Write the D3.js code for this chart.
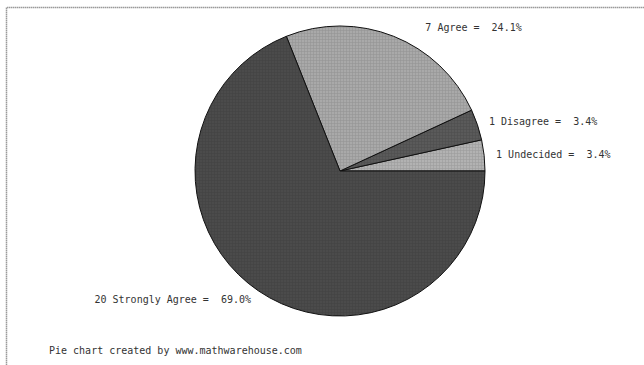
<!DOCTYPE html>
<html>
<head>
<meta charset="utf-8">
<script src="https://cdn.jsdelivr.net/npm/d3@7/dist/d3.min.js"></script>
<style>
  html, body { margin: 0; padding: 0; background: #fff; }
  svg { display: block; }
  text { font-family: "DejaVu Sans Mono", "Liberation Mono", monospace; font-size: 10px; fill: #333; }
</style>
</head>
<body>
<svg id="chart" width="644" height="365"></svg>
<script>
// Survey responses, drawn counter-clockwise from 3 o'clock
const categories = ["Undecided", "Disagree", "Agree", "Strongly Agree"];
const counts = [1, 1, 7, 20];
const percents = ["3.4%", "3.4%", "24.1%", "69.0%"];
const fills = ["#b2b2b2", "#5a5a5a", "#a9a9a9", "#4b4b4b"];
const footer = "Pie chart created by www.mathwarehouse.com";

const W = 644, H = 365;
const cx = 340, cy = 171, R = 145;
const svg = d3.select("#chart");

// frame along the top and left
svg.append("path")
  .attr("d", `M6.5,${H} L6.5,7.5 L${W},7.5`)
  .attr("fill", "none")
  .attr("stroke", "#9a9a9a")
  .attr("stroke-width", 1.5)
  .attr("stroke-dasharray", "1.5,0.5");

// dither texture used on the slices
const defs = svg.append("defs");
fills.forEach((c, i) => {
  const p = defs.append("pattern")
    .attr("id", "tex" + i)
    .attr("width", 3).attr("height", 3)
    .attr("patternUnits", "userSpaceOnUse");
  p.append("rect").attr("width", 3).attr("height", 3).attr("fill", c);
  const d = d3.color(c).darker(0.35);
  p.append("rect").attr("x", 0).attr("y", 0).attr("width", 3).attr("height", 1).attr("fill", d).attr("opacity", 0.6);
  p.append("rect").attr("x", 0).attr("y", 0).attr("width", 1).attr("height", 3).attr("fill", d).attr("opacity", 0.6);
});

const pie = d3.pie().sort(null).value(d => d)
  .startAngle(Math.PI / 2).endAngle(Math.PI / 2 - 2 * Math.PI);
const arcs = pie(counts);
const arc = d3.arc().innerRadius(0).outerRadius(R);

const g = svg.append("g").attr("transform", `translate(${cx},${cy})`);
g.selectAll("path.slice")
  .data(arcs)
  .join("path")
  .attr("class", "slice")
  .attr("d", arc)
  .attr("fill", (d, i) => `url(#tex${i})`)
  .attr("stroke", "#111")
  .attr("stroke-width", 1);

// labels placed just outside each slice's mid-angle
const labelR = R + 10;
g.selectAll("text.lbl")
  .data(arcs)
  .join("text")
  .attr("class", "lbl")
  .each(function (d, i) {
    const mid = (d.startAngle + d.endAngle) / 2;
    const x = labelR * Math.sin(mid);
    const y = -labelR * Math.cos(mid);
    const right = x >= 0;
    const nudge = right && Math.abs(Math.cos(mid)) > 0.9 ? 26 : 0;
    d3.select(this)
      .attr("x", x + nudge + (right ? 2 : -2))
      .attr("y", y)
      .attr("dy", "0.35em")
      .attr("text-anchor", right ? "start" : "end")
      .attr("xml:space", "preserve")
      .text(`${counts[i]} ${categories[i]} =  ${percents[i]}`);
  });

svg.append("text")
  .attr("x", 49).attr("y", 350)
  .attr("dy", "0.35em")
  .text(footer);
</script>
</body>
</html>
